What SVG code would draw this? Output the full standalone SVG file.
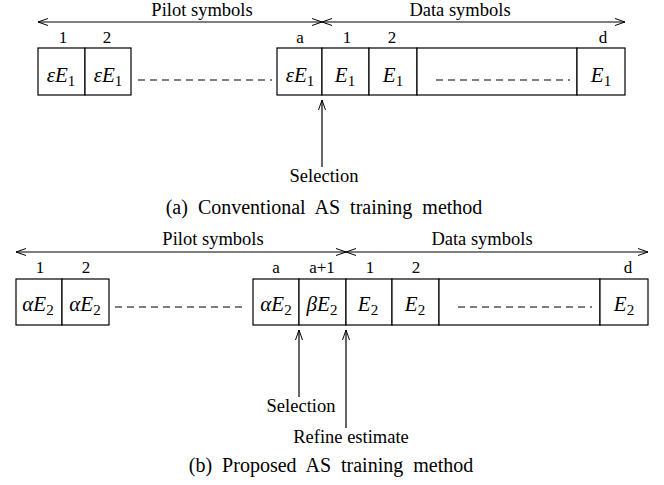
<svg xmlns="http://www.w3.org/2000/svg" width="664" height="485" viewBox="0 0 664 485">
<style>
text{font-family:"Liberation Serif","Times New Roman",serif;fill:#000}
.lbl{font-size:18.5px;text-anchor:middle}
.idx{font-size:17px;text-anchor:middle}
.cap{font-size:20px;text-anchor:middle;word-spacing:5px}
.m{font-size:21px;font-style:italic;text-anchor:middle}
.sub{font-size:15px;font-style:normal}
.box{fill:#fff;stroke:#000;stroke-width:1.2}
.ln{stroke:#000;stroke-width:1.2;fill:none}
.dash{stroke:#000;stroke-width:1.2;stroke-dasharray:7,5}
</style>
<defs>
<marker id="ah" markerWidth="12" markerHeight="10" refX="11" refY="5" orient="auto-start-reverse" markerUnits="userSpaceOnUse">
<path d="M1,1.5 L11,5 L1,8.5" fill="none" stroke="#000" stroke-width="1"/>
</marker>
</defs>

<!-- Part (a) -->
<g id="a-pilot-span">
<line class="ln" x1="38" y1="22" x2="322" y2="22" marker-start="url(#ah)" marker-end="url(#ah)"/>
<text class="lbl" x="202" y="16">Pilot symbols</text>
</g>
<g id="a-data-span">
<line class="ln" x1="322" y1="22" x2="625" y2="22" marker-start="url(#ah)" marker-end="url(#ah)"/>
<text class="lbl" x="460" y="16">Data symbols</text>
</g>
<g id="a-p1"><rect class="box" x="38" y="48" width="47" height="47"/><text class="idx" x="63" y="43">1</text><text class="m" x="61" y="82">εE<tspan class="sub" dy="4">1</tspan></text></g>
<g id="a-p2"><rect class="box" x="85" y="48" width="46" height="47"/><text class="idx" x="107" y="43">2</text><text class="m" x="108" y="82">εE<tspan class="sub" dy="4">1</tspan></text></g>
<g id="a-dots1"><line class="dash" x1="138" y1="80" x2="272" y2="80"/></g>
<g id="a-pa"><rect class="box" x="277" y="48" width="45" height="47"/><text class="idx" x="300" y="43">a</text><text class="m" x="300" y="82">εE<tspan class="sub" dy="4">1</tspan></text></g>
<g id="a-d1"><rect class="box" x="322" y="48" width="47" height="47"/><text class="idx" x="347" y="43">1</text><text class="m" x="345" y="82">E<tspan class="sub" dy="4">1</tspan></text></g>
<g id="a-d2"><rect class="box" x="369" y="48" width="48" height="47"/><text class="idx" x="392" y="43">2</text><text class="m" x="393" y="82">E<tspan class="sub" dy="4">1</tspan></text></g>
<g id="a-dots2"><rect class="box" x="417" y="48" width="160" height="47"/><line class="dash" x1="436" y1="80" x2="570" y2="80"/></g>
<g id="a-dd"><rect class="box" x="577" y="48" width="48" height="47"/><text class="idx" x="603" y="43">d</text><text class="m" x="601" y="82">E<tspan class="sub" dy="4">1</tspan></text></g>
<g id="a-connectors">
<line class="ln" x1="322" y1="167" x2="322" y2="100" marker-end="url(#ah)"/>
</g>
<g id="a-selection"><text class="lbl" x="324" y="182">Selection</text></g>
<g id="a-caption"><text class="cap" x="324" y="214">(a) Conventional AS training method</text></g>

<!-- Part (b) -->
<g id="b-pilot-span">
<line class="ln" x1="16" y1="252" x2="346" y2="252" marker-start="url(#ah)" marker-end="url(#ah)"/>
<text class="lbl" x="213" y="245">Pilot symbols</text>
</g>
<g id="b-data-span">
<line class="ln" x1="346" y1="252" x2="648" y2="252" marker-start="url(#ah)" marker-end="url(#ah)"/>
<text class="lbl" x="482" y="245">Data symbols</text>
</g>
<g id="b-p1"><rect class="box" x="16" y="279" width="46" height="46"/><text class="idx" x="40" y="273">1</text><text class="m" x="38" y="311">αE<tspan class="sub" dy="4">2</tspan></text></g>
<g id="b-p2"><rect class="box" x="62" y="279" width="47" height="46"/><text class="idx" x="86" y="273">2</text><text class="m" x="85" y="311">αE<tspan class="sub" dy="4">2</tspan></text></g>
<g id="b-dots1"><line class="dash" x1="115" y1="307" x2="247" y2="307"/></g>
<g id="b-pa"><rect class="box" x="253" y="279" width="46" height="46"/><text class="idx" x="276" y="273">a</text><text class="m" x="276" y="311">αE<tspan class="sub" dy="4">2</tspan></text></g>
<g id="b-pa1"><rect class="box" x="299" y="279" width="47" height="46"/><text class="idx" x="322" y="273">a+1</text><text class="m" x="322" y="311">βE<tspan class="sub" dy="4">2</tspan></text></g>
<g id="b-d1"><rect class="box" x="346" y="279" width="46" height="46"/><text class="idx" x="370" y="273">1</text><text class="m" x="368" y="311">E<tspan class="sub" dy="4">2</tspan></text></g>
<g id="b-d2"><rect class="box" x="392" y="279" width="47" height="46"/><text class="idx" x="416" y="273">2</text><text class="m" x="415" y="311">E<tspan class="sub" dy="4">2</tspan></text></g>
<g id="b-dots2"><rect class="box" x="439" y="279" width="161" height="46"/><line class="dash" x1="458" y1="307" x2="592" y2="307"/></g>
<g id="b-dd"><rect class="box" x="600" y="279" width="48" height="46"/><text class="idx" x="628" y="273">d</text><text class="m" x="624" y="311">E<tspan class="sub" dy="4">2</tspan></text></g>
<g id="b-connectors">
<line class="ln" x1="299" y1="397" x2="299" y2="330" marker-end="url(#ah)"/>
<line class="ln" x1="346" y1="428" x2="346" y2="330" marker-end="url(#ah)"/>
</g>
<g id="b-selection"><text class="lbl" x="301" y="412">Selection</text></g>
<g id="b-refine"><text class="lbl" x="351" y="443">Refine estimate</text></g>
<g id="b-caption"><text class="cap" x="331" y="472">(b) Proposed AS training method</text></g>
</svg>
